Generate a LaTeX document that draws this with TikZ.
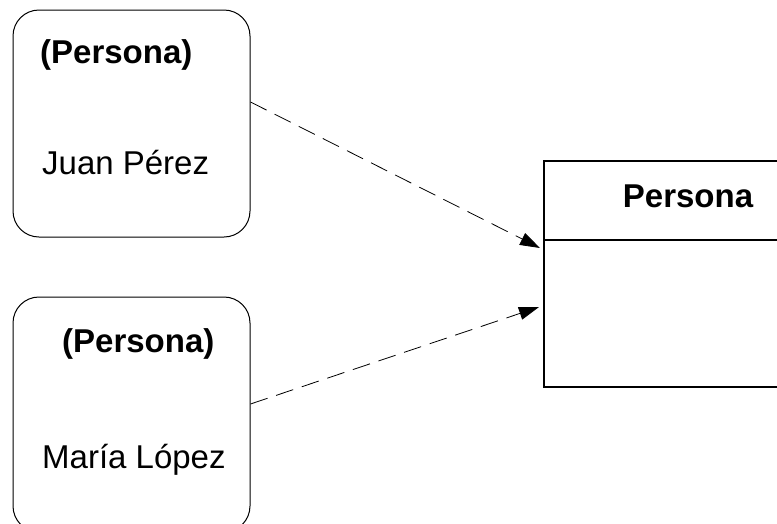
\documentclass[tikz,border=0pt]{standalone}
\usepackage{fontspec}
\setmainfont{Liberation Sans}
\usetikzlibrary{arrows.meta}
\begin{document}
\begin{tikzpicture}[x=1pt,y=-1pt,
  obj/.style={draw, line width=1pt, rounded corners=26pt, minimum width=237pt, inner sep=0pt},
  cls/.style={draw, line width=2pt, minimum width=288pt, minimum height=226pt, inner sep=0pt},
  txt/.style={font=\fontsize{33}{40}\selectfont, inner sep=0pt},
  btxt/.style={font=\fontsize{33}{40}\selectfont\bfseries, inner sep=0pt},
  dep/.style={line width=0.8pt, dash pattern=on 18pt off 9pt, -{Triangle[length=20pt,width=13pt]}}]
\useasboundingbox (0,0) rectangle (777,523);
\clip (0,0) rectangle (777,523);
\node[obj, minimum height=227pt] (o1) at (131.5,123.5) {};
\node[obj, minimum height=235pt] (o2) at (131.5,414.5) {};
\node[cls] (c) at (688,274) {};
\coordinate (sepL) at (544,240);
\coordinate (sepR) at (832,240);
\draw[line width=2pt] (sepL) -- (sepR);
\node[btxt, anchor=west] (t1) at (40,55) {(Persona)};
\node[txt, anchor=west] (n1) at (42,163) {Juan Pérez};
\node[btxt, anchor=west] (t2) at (62,344) {(Persona)};
\node[txt, anchor=west] (n2) at (42,460) {María López};
\node[btxt] (ct) at (688,196) {Persona};
\draw[dep] ([yshift=21.5pt]o1.east) -- ([yshift=26pt,xshift=-3pt]c.west);
\draw[dep] ([yshift=10.5pt]o2.east) -- ([yshift=-33pt,xshift=-4pt]c.west);
\end{tikzpicture}
\end{document}
